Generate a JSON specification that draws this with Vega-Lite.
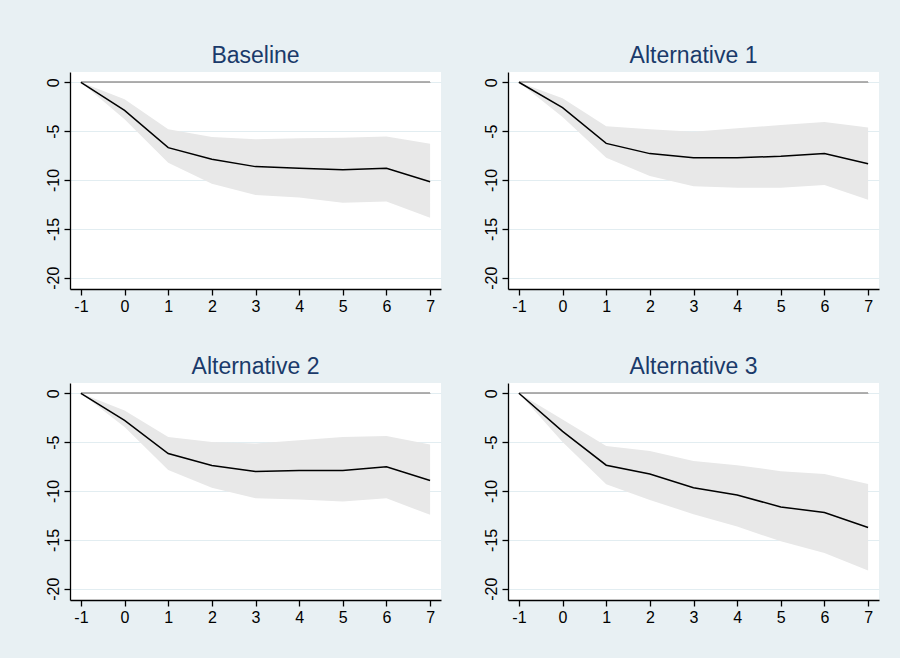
{
  "$schema": "https://vega.github.io/schema/vega-lite/v6.json",
  "background": "#E8F0F3",
  "padding": {"left": 40, "top": 45, "right": 22, "bottom": 28},
  "datasets": {
    "irf": [
      {"panel": "Baseline", "h": -1, "b": 0, "lo": 0, "hi": 0},
      {"panel": "Baseline", "h": 0, "b": -2.87, "lo": -3.79, "hi": -1.74},
      {"panel": "Baseline", "h": 1, "b": -6.69, "lo": -8.23, "hi": -4.81},
      {"panel": "Baseline", "h": 2, "b": -7.88, "lo": -10.38, "hi": -5.6},
      {"panel": "Baseline", "h": 3, "b": -8.63, "lo": -11.54, "hi": -5.84},
      {"panel": "Baseline", "h": 4, "b": -8.8, "lo": -11.8, "hi": -5.73},
      {"panel": "Baseline", "h": 5, "b": -8.95, "lo": -12.32, "hi": -5.67},
      {"panel": "Baseline", "h": 6, "b": -8.8, "lo": -12.2, "hi": -5.56},
      {"panel": "Baseline", "h": 7, "b": -10.17, "lo": -13.86, "hi": -6.28},
      {"panel": "Alternative 1", "h": -1, "b": 0, "lo": 0, "hi": 0},
      {"panel": "Alternative 1", "h": 0, "b": -2.59, "lo": -3.55, "hi": -1.64},
      {"panel": "Alternative 1", "h": 1, "b": -6.25, "lo": -7.71, "hi": -4.5},
      {"panel": "Alternative 1", "h": 2, "b": -7.3, "lo": -9.59, "hi": -4.81},
      {"panel": "Alternative 1", "h": 3, "b": -7.71, "lo": -10.65, "hi": -5.05},
      {"panel": "Alternative 1", "h": 4, "b": -7.71, "lo": -10.78, "hi": -4.71},
      {"panel": "Alternative 1", "h": 5, "b": -7.58, "lo": -10.78, "hi": -4.37},
      {"panel": "Alternative 1", "h": 6, "b": -7.3, "lo": -10.51, "hi": -4.06},
      {"panel": "Alternative 1", "h": 7, "b": -8.33, "lo": -12.01, "hi": -4.64},
      {"panel": "Alternative 2", "h": -1, "b": 0, "lo": 0, "hi": 0},
      {"panel": "Alternative 2", "h": 0, "b": -2.78, "lo": -3.46, "hi": -1.76},
      {"panel": "Alternative 2", "h": 1, "b": -6.17, "lo": -7.86, "hi": -4.47},
      {"panel": "Alternative 2", "h": 2, "b": -7.39, "lo": -9.66, "hi": -4.98},
      {"panel": "Alternative 2", "h": 3, "b": -8.0, "lo": -10.75, "hi": -5.15},
      {"panel": "Alternative 2", "h": 4, "b": -7.9, "lo": -10.88, "hi": -4.81},
      {"panel": "Alternative 2", "h": 5, "b": -7.9, "lo": -11.08, "hi": -4.47},
      {"panel": "Alternative 2", "h": 6, "b": -7.53, "lo": -10.75, "hi": -4.37},
      {"panel": "Alternative 2", "h": 7, "b": -8.92, "lo": -12.44, "hi": -5.25},
      {"panel": "Alternative 3", "h": -1, "b": 0, "lo": 0, "hi": 0},
      {"panel": "Alternative 3", "h": 0, "b": -3.9, "lo": -4.98, "hi": -2.68},
      {"panel": "Alternative 3", "h": 1, "b": -7.36, "lo": -9.32, "hi": -5.39},
      {"panel": "Alternative 3", "h": 2, "b": -8.27, "lo": -10.92, "hi": -5.9},
      {"panel": "Alternative 3", "h": 3, "b": -9.66, "lo": -12.37, "hi": -6.92},
      {"panel": "Alternative 3", "h": 4, "b": -10.41, "lo": -13.63, "hi": -7.36},
      {"panel": "Alternative 3", "h": 5, "b": -11.63, "lo": -15.15, "hi": -7.97},
      {"panel": "Alternative 3", "h": 6, "b": -12.2, "lo": -16.34, "hi": -8.27},
      {"panel": "Alternative 3", "h": 7, "b": -13.73, "lo": -18.14, "hi": -9.29}
    ]
  },
  "data": {"name": "irf"},
  "facet": {
    "field": "panel",
    "type": "nominal",
    "sort": ["Baseline", "Alternative 1", "Alternative 2", "Alternative 3"],
    "title": null,
    "header": {
      "labelFontSize": 23,
      "labelFont": "Liberation Sans",
      "labelColor": "#1A3A6A",
      "labelPadding": 4
    }
  },
  "columns": 2,
  "spacing": {"column": 37, "row": 37},
  "resolve": {"axis": {"x": "independent", "y": "independent"}},
  "spec": {
    "width": 371,
    "height": 217,
    "layer": [
      {
        "mark": {"type": "area", "color": "#E8E8E8", "opacity": 1},
        "encoding": {
          "x": {"field": "h", "type": "quantitative"},
          "y": {"field": "lo", "type": "quantitative"},
          "y2": {"field": "hi"}
        }
      },
      {
        "mark": {"type": "rule", "color": "#AAAAAA", "strokeWidth": 1.2},
        "encoding": {
          "x": {"datum": -1},
          "x2": {"datum": 7},
          "y": {"datum": 0}
        }
      },
      {
        "mark": {"type": "line", "color": "#000000", "strokeWidth": 1.5},
        "encoding": {
          "x": {
            "field": "h", "type": "quantitative",
            "scale": {"domain": [-1.25, 7.25], "nice": false, "zero": false},
            "axis": {"values": [-1, 0, 1, 2, 3, 4, 5, 6, 7], "title": null, "grid": false, "minExtent": 30, "maxExtent": 30, "labelExpr": "toString(datum.value)"}
          },
          "y": {
            "field": "b", "type": "quantitative",
            "scale": {"domain": [-21.15, 1.05], "nice": false, "zero": false},
            "axis": {"values": [0, -5, -10, -15, -20], "title": null, "grid": true, "labelAngle": 270, "minExtent": 30, "maxExtent": 30, "labelExpr": "toString(datum.value)"}
          }
        }
      }
    ]
  },
  "config": {
    "view": {"fill": "#FFFFFF", "stroke": null},
    "font": "Liberation Sans",
    "axis": {
      "domainColor": "#000000",
      "domainWidth": 1.3,
      "tickColor": "#000000",
      "tickWidth": 1.3,
      "tickSize": 6,
      "labelFontSize": 16,
      "labelColor": "#000000",
      "labelPadding": 3,
      "gridColor": "#E2EDF1",
      "gridWidth": 1.2,
      "labelFlush": false,
      "labelOverlap": false
    }
  }
}
